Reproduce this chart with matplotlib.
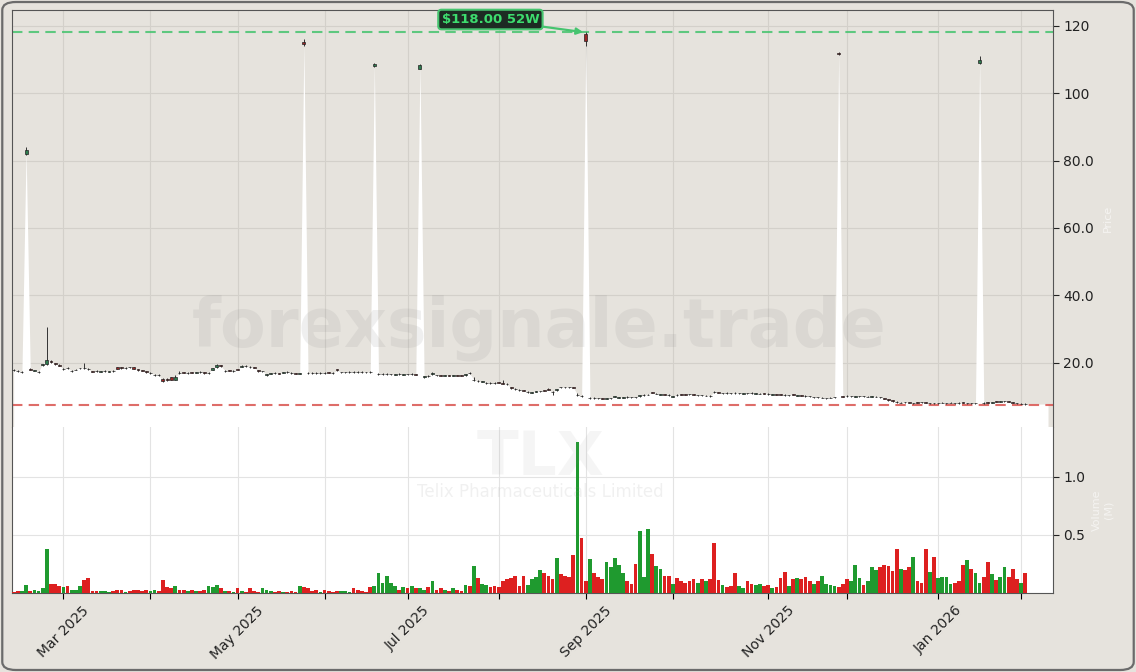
import numpy as np
import pandas as pd
import matplotlib
matplotlib.use("Agg")
import matplotlib.pyplot as plt
from matplotlib.patches import FancyBboxPatch
from matplotlib.ticker import FuncFormatter, FixedLocator

# Trading calendar (NYSE holidays removed)
holidays = ["2025-02-17", "2025-04-18", "2025-05-26", "2025-06-19", "2025-07-04",
            "2025-09-01", "2025-11-27", "2025-12-25", "2026-01-01", "2026-01-19"]
dates = pd.bdate_range("2025-02-12", "2026-02-03", freq="C", holidays=holidays)

# OHLC (USD)
opens = [18.0, 17.7, 17.3, 82.0, 18.2, 17.7, 17.3, 19.4, 19.6, 20.6,
         20.0, 19.5, 18.1, 18.6, 17.6, 17.9, 18.4, 18.6, 18.3, 17.5,
         17.6, 17.4, 17.5, 17.4, 17.7, 18.8, 18.7, 18.5, 18.8, 18.7,
         18.1, 17.8, 17.5, 17.0, 16.4, 16.5, 15.2, 15.1, 15.7, 15.0,
         17.1, 17.2, 17.0, 17.2, 17.1, 17.4, 17.2, 17.0, 18.0, 18.8,
         19.3, 17.6, 17.8, 17.6, 18.1, 18.9, 19.1, 18.8, 18.7, 17.9,
         17.5, 16.3, 16.8, 17.1, 16.9, 17.1, 17.4, 17.1, 16.9, 16.8,
         115.2, 17.1, 17.1, 17.0, 17.0, 17.1, 17.2, 17.1, 18.1, 17.2,
         17.2, 17.3, 17.3, 17.4, 17.4, 17.3, 17.4, 108.1, 16.6, 16.7,
         16.7, 16.6, 16.5, 16.8, 16.5, 16.7, 16.6, 16.6, 107.2, 15.7,
         16.2, 16.6, 16.4, 16.3, 16.2, 16.3, 16.2, 16.3, 16.3, 16.4,
         17.0, 14.8, 14.7, 14.4, 14.0, 14.1, 14.1, 14.2, 13.9, 13.8,
         12.8, 12.4, 12.1, 11.9, 11.3, 11.2, 11.5, 11.6, 11.9, 12.4,
         11.5, 12.0, 12.9, 12.9, 12.9, 12.8, 10.4, 10.3, 117.5, 9.6,
         9.7, 9.6, 9.5, 9.4, 9.5, 9.9, 9.7, 9.7, 10.0, 9.9,
         9.9, 10.1, 10.4, 10.5, 11.3, 10.8, 10.6, 10.7, 10.6, 10.0,
         10.6, 10.7, 10.7, 10.8, 10.7, 10.4, 10.5, 10.2, 10.3, 11.5,
         11.3, 11.0, 11.2, 11.1, 11.2, 11.0, 10.9, 11.1, 11.2, 10.9,
         10.8, 11.0, 10.9, 10.6, 10.7, 10.7, 10.6, 10.4, 10.7, 10.3,
         10.4, 10.3, 10.2, 9.8, 9.9, 9.6, 9.5, 9.6, 9.8, 111.9,
         10.1, 10.3, 10.1, 10.0, 10.1, 10.2, 9.9, 10.0, 9.9, 9.9,
         9.6, 9.2, 8.9, 8.5, 8.1, 8.4, 8.3, 8.0, 8.3, 8.4,
         8.3, 8.0, 8.1, 8.0, 8.1, 8.0, 8.1, 8.1, 8.2, 8.3,
         8.0, 8.1, 8.0, 108.8, 8.2, 8.3, 8.2, 8.6, 8.5, 8.6,
         8.6, 8.3, 8.1, 7.8, 7.9]
highs = [18.2, 17.9, 17.5, 84.0, 18.4, 18.0, 17.5, 19.8, 30.6, 20.8,
         20.1, 19.6, 18.4, 18.7, 17.9, 18.1, 18.6, 20.0, 18.5, 17.6,
         17.8, 17.6, 17.8, 17.6, 17.8, 18.9, 18.8, 18.8, 18.9, 18.8,
         18.2, 17.9, 17.6, 17.3, 16.7, 16.6, 15.4, 15.6, 15.9, 16.3,
         17.6, 17.3, 17.2, 17.3, 17.4, 17.5, 17.4, 17.3, 18.6, 19.6,
         19.4, 17.9, 17.9, 17.8, 18.3, 19.3, 19.3, 19.0, 18.8, 18.0,
         17.7, 16.8, 17.1, 17.2, 17.0, 17.4, 17.5, 17.3, 17.0, 17.1,
         116.0, 17.3, 17.3, 17.2, 17.2, 17.2, 17.3, 17.2, 18.2, 17.4,
         17.4, 17.5, 17.5, 17.5, 17.5, 17.4, 17.5, 109.0, 16.9, 17.0,
         16.9, 16.8, 16.8, 16.9, 16.8, 16.8, 16.9, 16.7, 108.6, 16.2,
         16.3, 17.2, 16.5, 16.4, 16.4, 16.4, 16.4, 16.4, 16.4, 16.8,
         17.2, 15.8, 14.8, 14.7, 14.4, 14.2, 14.2, 14.3, 15.0, 14.0,
         13.0, 12.5, 12.2, 12.0, 11.6, 11.5, 11.8, 11.8, 12.0, 12.5,
         11.6, 12.4, 13.0, 13.0, 13.0, 12.9, 11.0, 10.4, 118.0, 9.8,
         9.8, 9.7, 9.6, 9.6, 9.7, 10.2, 9.9, 9.9, 10.1, 10.0,
         10.0, 10.5, 10.7, 10.7, 11.4, 11.0, 10.9, 10.8, 10.7, 10.2,
         10.7, 10.8, 10.8, 10.9, 10.8, 10.6, 10.6, 10.4, 10.4, 11.6,
         11.4, 11.2, 11.3, 11.2, 11.3, 11.2, 11.1, 11.2, 11.3, 11.1,
         11.0, 11.1, 11.0, 10.8, 10.8, 10.8, 10.7, 10.6, 10.8, 10.5,
         10.5, 10.4, 10.3, 10.0, 10.0, 9.8, 9.7, 9.8, 10.0, 112.1,
         10.2, 10.4, 10.3, 10.2, 10.3, 10.3, 10.1, 10.2, 10.1, 10.0,
         9.7, 9.3, 9.0, 8.6, 8.4, 8.5, 8.4, 8.2, 8.4, 8.5,
         8.4, 8.2, 8.2, 8.2, 8.3, 8.2, 8.3, 8.2, 8.3, 8.4,
         8.2, 8.2, 8.2, 111.0, 8.3, 8.4, 8.4, 8.7, 8.7, 8.8,
         8.7, 8.4, 8.2, 8.0, 8.0]
lows = [17.7, 17.4, 17.1, 81.5, 17.8, 17.5, 17.1, 19.2, 19.5, 20.1,
        19.5, 19.0, 17.9, 18.3, 17.4, 17.8, 18.2, 18.3, 18.0, 17.2,
        17.3, 17.2, 17.4, 17.3, 17.4, 18.1, 18.2, 18.3, 18.4, 18.1,
        17.7, 17.5, 17.1, 16.8, 16.2, 16.2, 14.2, 14.7, 14.8, 14.8,
        16.8, 16.9, 16.8, 16.9, 16.9, 17.1, 16.8, 16.8, 17.8, 18.6,
        18.8, 17.4, 17.5, 17.4, 17.8, 18.7, 18.8, 18.5, 18.4, 17.4,
        17.3, 16.1, 16.6, 16.8, 16.6, 16.9, 17.1, 16.8, 16.6, 16.6,
        114.0, 16.8, 16.8, 16.7, 16.8, 16.8, 16.9, 16.8, 17.6, 17.0,
        17.0, 17.1, 17.0, 17.1, 17.1, 17.0, 17.1, 107.8, 16.4, 16.5,
        16.5, 16.4, 16.3, 16.5, 16.4, 16.4, 16.5, 16.3, 107.0, 15.5,
        15.8, 16.4, 16.0, 16.0, 16.0, 16.0, 16.0, 16.0, 16.0, 16.2,
        16.7, 14.6, 14.2, 14.2, 13.8, 13.8, 13.8, 13.9, 13.6, 13.5,
        12.4, 12.0, 11.8, 11.6, 11.2, 11.1, 11.3, 11.5, 11.6, 11.9,
        10.6, 11.8, 12.6, 12.6, 12.6, 12.5, 10.2, 9.9, 114.0, 9.4,
        9.4, 9.3, 9.2, 9.3, 9.4, 9.8, 9.6, 9.6, 9.7, 9.6,
        9.6, 10.0, 10.3, 10.4, 11.0, 10.7, 10.5, 10.4, 10.3, 9.9,
        10.3, 10.4, 10.5, 10.5, 10.4, 10.3, 10.2, 10.1, 10.0, 11.1,
        11.0, 10.9, 10.9, 10.9, 10.9, 10.9, 10.8, 10.8, 10.9, 10.8,
        10.7, 10.7, 10.6, 10.5, 10.4, 10.4, 10.3, 10.3, 10.4, 10.2,
        10.1, 10.0, 9.9, 9.7, 9.6, 9.5, 9.4, 9.5, 9.7, 111.3,
        9.8, 10.0, 10.0, 9.9, 10.0, 9.9, 9.8, 9.9, 9.8, 9.6,
        9.2, 8.8, 8.5, 8.1, 8.0, 8.1, 8.0, 7.9, 8.0, 8.1,
        8.0, 7.9, 7.8, 7.9, 8.0, 7.9, 8.0, 7.9, 7.9, 8.0,
        7.9, 7.8, 7.9, 108.6, 7.9, 8.0, 8.1, 8.3, 8.4, 8.5,
        8.3, 8.0, 7.8, 7.7, 7.62]
closes = [17.9, 17.6, 17.4, 83.0, 18.0, 17.8, 17.4, 19.7, 20.8, 20.3,
          19.7, 19.2, 18.2, 18.5, 17.7, 18.0, 18.5, 18.5, 18.2, 17.4,
          17.5, 17.5, 17.6, 17.5, 17.6, 18.3, 18.4, 18.6, 18.7, 18.3,
          17.9, 17.7, 17.3, 17.1, 16.5, 16.4, 14.5, 15.0, 15.0, 15.8,
          17.0, 17.1, 17.1, 17.1, 17.2, 17.3, 17.0, 17.1, 18.4, 19.4,
          19.0, 17.7, 17.7, 17.7, 18.0, 19.1, 19.0, 18.7, 18.6, 17.6,
          17.6, 16.6, 16.9, 17.0, 16.8, 17.2, 17.3, 17.0, 16.8, 16.9,
          114.5, 17.0, 17.0, 16.9, 17.1, 17.0, 17.1, 17.0, 17.8, 17.3,
          17.3, 17.4, 17.2, 17.3, 17.3, 17.2, 17.3, 108.5, 16.7, 16.8,
          16.8, 16.7, 16.6, 16.7, 16.6, 16.6, 16.7, 16.5, 108.3, 16.0,
          16.0, 17.0, 16.3, 16.2, 16.3, 16.2, 16.3, 16.2, 16.2, 16.6,
          16.9, 15.0, 14.5, 14.5, 14.1, 14.0, 14.0, 14.1, 13.8, 13.7,
          12.6, 12.2, 12.0, 11.8, 11.4, 11.3, 11.6, 11.7, 11.8, 12.1,
          11.3, 12.3, 12.8, 12.8, 12.8, 12.7, 10.6, 10.1, 115.5, 9.7,
          9.6, 9.5, 9.4, 9.5, 9.6, 10.1, 9.8, 9.8, 9.9, 9.8,
          9.8, 10.4, 10.5, 10.6, 11.2, 10.9, 10.7, 10.6, 10.5, 10.1,
          10.5, 10.6, 10.6, 10.7, 10.6, 10.5, 10.4, 10.3, 10.2, 11.4,
          11.2, 11.1, 11.1, 11.0, 11.1, 11.1, 11.0, 11.0, 11.1, 11.0,
          10.9, 10.9, 10.8, 10.7, 10.6, 10.6, 10.5, 10.5, 10.6, 10.4,
          10.3, 10.2, 10.1, 9.9, 9.8, 9.7, 9.6, 9.7, 9.9, 111.5,
          10.0, 10.2, 10.2, 10.1, 10.2, 10.1, 10.0, 10.1, 10.0, 9.8,
          9.4, 9.0, 8.7, 8.3, 8.2, 8.3, 8.2, 8.1, 8.2, 8.3,
          8.2, 8.1, 8.0, 8.1, 8.2, 8.1, 8.2, 8.0, 8.1, 8.2,
          8.1, 8.0, 8.1, 109.8, 8.1, 8.2, 8.3, 8.5, 8.6, 8.7,
          8.5, 8.2, 8.0, 7.9, 7.8]

# Volume in millions of shares
volumes = [0.01, 0.02, 0.02, 0.07, 0.02, 0.03, 0.02, 0.04, 0.38, 0.08,
           0.08, 0.06, 0.05, 0.06, 0.03, 0.03, 0.06, 0.11, 0.13, 0.02,
           0.02, 0.02, 0.02, 0.01, 0.02, 0.03, 0.03, 0.01, 0.02, 0.03,
           0.03, 0.02, 0.03, 0.02, 0.03, 0.02, 0.11, 0.05, 0.04, 0.06,
           0.03, 0.03, 0.02, 0.03, 0.02, 0.02, 0.03, 0.06, 0.05, 0.07,
           0.04, 0.02, 0.02, 0.01, 0.04, 0.02, 0.01, 0.04, 0.02, 0.01,
           0.04, 0.03, 0.02, 0.01, 0.02, 0.01, 0.01, 0.02, 0.01, 0.06,
           0.05, 0.04, 0.02, 0.03, 0.01, 0.03, 0.02, 0.01, 0.02, 0.02,
           0.02, 0.01, 0.04, 0.03, 0.02, 0.01, 0.05, 0.06, 0.17, 0.09,
           0.15, 0.09, 0.06, 0.03, 0.05, 0.04, 0.06, 0.04, 0.04, 0.03,
           0.05, 0.10, 0.03, 0.04, 0.03, 0.02, 0.04, 0.03, 0.02, 0.07,
           0.06, 0.23, 0.13, 0.08, 0.07, 0.05, 0.06, 0.05, 0.10, 0.12,
           0.13, 0.15, 0.06, 0.15, 0.07, 0.12, 0.14, 0.20, 0.17, 0.15,
           0.12, 0.30, 0.16, 0.15, 0.14, 0.33, 1.30, 0.47, 0.10, 0.29,
           0.17, 0.14, 0.12, 0.27, 0.22, 0.30, 0.24, 0.17, 0.10, 0.08,
           0.25, 0.53, 0.14, 0.55, 0.34, 0.23, 0.21, 0.15, 0.15, 0.08,
           0.13, 0.10, 0.09, 0.10, 0.12, 0.09, 0.12, 0.10, 0.12, 0.43,
           0.11, 0.07, 0.05, 0.06, 0.17, 0.06, 0.04, 0.10, 0.08, 0.07,
           0.08, 0.06, 0.07, 0.04, 0.05, 0.13, 0.18, 0.06, 0.12, 0.13,
           0.12, 0.14, 0.10, 0.08, 0.10, 0.15, 0.08, 0.07, 0.06, 0.05,
           0.08, 0.12, 0.10, 0.24, 0.13, 0.07, 0.10, 0.22, 0.20, 0.22,
           0.24, 0.23, 0.19, 0.38, 0.21, 0.20, 0.22, 0.31, 0.10, 0.09,
           0.38, 0.18, 0.31, 0.13, 0.14, 0.14, 0.08, 0.09, 0.10, 0.24,
           0.28, 0.21, 0.17, 0.09, 0.14, 0.27, 0.16, 0.11, 0.14, 0.22,
           0.14, 0.21, 0.12, 0.09, 0.17]

ticker = "TLX"
company = "Telix Pharmaceuticals Limited"
watermark = "forexsignale.trade"

# Colours
BG = "#e6e3dd"
UP_BODY, DOWN_BODY = "#2e7d4f", "#9b2626"
UP_VOL, DOWN_VOL = "#1f9a2f", "#dd2020"
HI_COL, LO_COL = "#46c46f", "#d9534f"

o = np.array(opens); h = np.array(highs); l = np.array(lows); c = np.array(closes)
v = np.array(volumes)
x = np.arange(len(dates))
up = c >= o
hi52, lo52 = h.max(), l.min()
i_hi = int(h.argmax())
pad = (hi52 - lo52) * 0.06

fig = plt.figure(figsize=(11.36, 6.72), dpi=100, facecolor=BG)
fig.patches.append(FancyBboxPatch((0.002, 0.003), 0.996, 0.994, boxstyle="round,pad=0,rounding_size=0.012",
                                  transform=fig.transFigure, fc="none", ec="#6b6b6b", lw=1.6))

ax = fig.add_axes([12 / 1136, 1 - 427 / 672, 1041 / 1136, 417 / 672], facecolor=BG)
axv = fig.add_axes([12 / 1136, 1 - 593 / 672, 1041 / 1136, 166 / 672], facecolor="white", sharex=ax)

# Price panel: white area under the close, candles on top
fill_x = np.append(x, x[-1] + 5.5)
fill_c = np.append(c, c[-1])
ax.fill_between(fill_x, lo52 - pad, fill_c, color="white", lw=0, zorder=1)
ax.vlines(x, l, h, color="#333333", lw=0.7, zorder=3)
ax.bar(x, np.abs(c - o), bottom=np.minimum(o, c), width=0.7,
       color=np.where(up, UP_BODY, DOWN_BODY), edgecolor="#222222", lw=0.5, zorder=4)
ax.axhline(hi52, color=HI_COL, ls=(0, (5, 3)), lw=1.5, alpha=0.85, zorder=2)
ax.axhline(lo52, color=LO_COL, ls=(0, (5, 3)), lw=1.5, alpha=0.85, zorder=2)
ax.annotate(f"${hi52:.2f} 52W", xy=(i_hi - 0.3, hi52), xytext=(115, 121.8),
            ha="center", va="center", fontsize=9.5, fontweight="bold", color="#3ddc6e",
            bbox=dict(boxstyle="round,pad=0.25", fc="#1d2b23", ec=HI_COL, lw=1.5),
            arrowprops=dict(arrowstyle="-|>", color=HI_COL, lw=1.6, shrinkA=0, shrinkB=1),
            zorder=6)

ax.set_xlim(-0.4, x[-1] + 6.7)
ax.set_ylim(lo52 - pad, hi52 + pad)
ax.yaxis.tick_right()
ax.yaxis.set_major_locator(FixedLocator([20, 40, 60, 80, 100, 120]))
ax.yaxis.set_major_formatter(FuncFormatter(lambda val, pos: f"{val:.0f}" if val >= 100 else f"{val:.1f}"))
ax.tick_params(axis="x", bottom=False, labelbottom=False)
ax.tick_params(axis="y", labelsize=10, colors="#222222", length=4)
ax.grid(True, color="#d3d0ca", lw=0.8, zorder=0)
ax.set_axisbelow(True)
ax.yaxis.set_label_position("right")
ax.set_ylabel("Price", fontsize=8, color="white", alpha=0.6, labelpad=6)
for side in ["left", "top", "right"]:
    ax.spines[side].set_color("#555555")
ax.spines["bottom"].set_visible(False)

# Volume panel
axv.bar(x, v, width=0.9, color=np.where(up, UP_VOL, DOWN_VOL), lw=0, zorder=3)
axv.set_ylim(0, v.max() * 1.1)
axv.yaxis.tick_right()
axv.yaxis.set_major_locator(FixedLocator([0.5, 1.0]))
axv.yaxis.set_major_formatter(FuncFormatter(lambda val, pos: f"{val:.1f}"))
axv.yaxis.set_label_position("right")
axv.set_ylabel("Volume\n(M)", fontsize=8, color="white", alpha=0.6, labelpad=5)
axv.tick_params(axis="y", labelsize=10, colors="#222222", length=4)
axv.grid(True, color="#e3e3e3", lw=0.8, zorder=0)
axv.set_axisbelow(True)
for side in ["left", "bottom", "right"]:
    axv.spines[side].set_color("#555555")
axv.spines["top"].set_visible(False)

# Month ticks at the first trading day of each month, every other one labelled
month_first = pd.Series(x, index=dates).groupby(dates.to_period("M")).min()
tick_pos = month_first.values[1:]
tick_lab = [d.strftime("%b %Y") if d.month % 2 == 1 else "" for d in dates[tick_pos]]
axv.set_xticks(tick_pos)
axv.set_xticklabels(tick_lab, rotation=45, fontsize=10, color="#222222")
axv.tick_params(axis="x", length=4)

# Watermarks
fig.text(0.475, 0.513, watermark, ha="center", va="center", fontsize=48, fontweight="bold",
         color="#8a8a8a", alpha=0.13, zorder=5)
fig.text(0.476, 0.318, ticker, ha="center", va="center", fontsize=44, fontweight="bold",
         color="#8a8a8a", alpha=0.08, zorder=5)
fig.text(0.476, 0.268, company, ha="center", va="center", fontsize=12,
         color="#8a8a8a", alpha=0.12, zorder=5)

fig.savefig("out.png", dpi=100, facecolor=BG)
